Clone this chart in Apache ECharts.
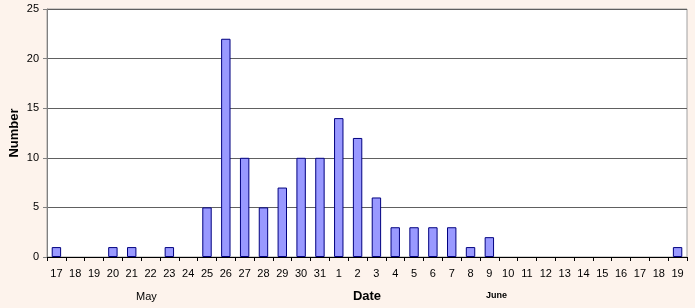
<!DOCTYPE html>
<html>
<head>
<meta charset="utf-8">
<script src="https://cdn.jsdelivr.net/npm/echarts@6/dist/echarts.min.js"></script>
<style>html,body{margin:0;padding:0;background:#FDF3EC;}#c{width:695px;height:308px;}</style>
</head>
<body>
<div id="c"></div>
<script>
var categories = ['17','18','19','20','21','22','23','24','25','26','27','28','29','30','31','1','2','3','4','5','6','7','8','9','10','11','12','13','14','15','16','17','18','19'];
var values = [1,0,0,1,1,0,1,0,5,22,10,5,7,10,10,14,12,6,3,3,3,3,1,2,0,0,0,0,0,0,0,0,0,1];
var yTicks = {min:0, max:25, interval:5};

var chart = echarts.init(document.getElementById('c'), null, {renderer:'canvas'});
chart.setOption({
  backgroundColor:'#FDF3EC',
  animation:false,
  grid:{left:47, right:8, top:9, bottom:51, containLabel:false, outerBoundsMode:'none', show:true, backgroundColor:'#FFFFFF', borderColor:'#A0A0A0', borderWidth:1},
  xAxis:{
    type:'category', data:categories, boundaryGap:true,
    name:'Date', nameLocation:'middle', nameGap:33, nameMoveOverlap:false,
    nameTextStyle:{fontFamily:'Liberation Sans', fontSize:13, fontWeight:'bold', color:'#000'},
    axisLine:{lineStyle:{color:'#000', width:1}},
    axisTick:{show:true, alignWithLabel:false, length:4, lineStyle:{color:'#000'}},
    axisLabel:{fontFamily:'Liberation Sans', fontSize:11, color:'#000', margin:11, interval:0}
  },
  yAxis:{
    type:'value', min:yTicks.min, max:yTicks.max, interval:yTicks.interval,
    name:'Number', nameLocation:'middle', nameGap:26, nameMoveOverlap:false,
    nameTextStyle:{fontFamily:'Liberation Sans', fontSize:13, fontWeight:'bold', color:'#000'},
    axisLine:{show:true, lineStyle:{color:'#808080'}},
    axisTick:{show:true, length:4, lineStyle:{color:'#808080'}},
    axisLabel:{fontFamily:'Liberation Sans', fontSize:11, color:'#000', margin:8},
    splitLine:{lineStyle:{color:'#606060', width:1}}
  },
  graphic:[
    {type:'text', left:136, top:291, style:{text:'May', font:'11px "Liberation Sans"', fill:'#000'}},
    {type:'text', left:486, top:291, style:{text:'June', font:'bold 9px "Liberation Sans"', fill:'#000'}}
  ],
  series:[{
    type:'bar', data:values.map(function(v){return v === 0 ? '-' : v;}), barWidth:'50%',
    itemStyle:{color:'#9999FF', borderColor:'#000080', borderWidth:1}
  }]
});
</script>
</body>
</html>
